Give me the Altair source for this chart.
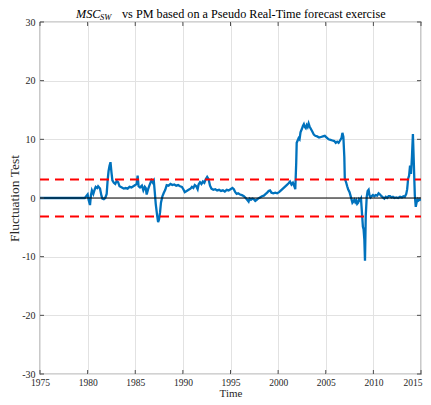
import altair as alt
import pandas as pd

years = [1975.0, 1979.7, 1979.85, 1980.0, 1980.1, 1980.25, 1980.35, 1980.45, 1980.6, 1980.75,
         1980.85, 1981.0, 1981.1, 1981.3, 1981.45, 1981.55, 1981.7, 1981.85, 1982.0, 1982.1,
         1982.2, 1982.3, 1982.4, 1982.5, 1982.6, 1982.75, 1982.9, 1983.05, 1983.2, 1983.35,
         1983.6, 1983.8, 1984.0, 1984.2, 1984.4, 1984.6, 1984.8, 1985.0, 1985.15, 1985.25,
         1985.35, 1985.5, 1985.7, 1985.85, 1986.0, 1986.1, 1986.2, 1986.35, 1986.5, 1986.7,
         1986.85, 1986.95, 1987.05, 1987.15, 1987.3, 1987.4, 1987.5, 1987.6, 1987.7, 1987.85,
         1988.0, 1988.15, 1988.3, 1988.5, 1988.7, 1988.9, 1989.1, 1989.3, 1989.5, 1989.7,
         1989.9, 1990.05, 1990.2, 1990.4, 1990.6, 1990.8, 1990.95, 1991.1, 1991.25, 1991.4,
         1991.55, 1991.65, 1991.8, 1991.95, 1992.1, 1992.25, 1992.4, 1992.55, 1992.7, 1992.85,
         1993.0, 1993.2, 1993.4, 1993.6, 1993.8, 1994.0, 1994.2, 1994.4, 1994.6, 1994.8,
         1995.0, 1995.2, 1995.35, 1995.5, 1995.65, 1995.8, 1996.0, 1996.2, 1996.4, 1996.6,
         1996.75, 1996.9, 1997.0, 1997.15, 1997.3, 1997.45, 1997.6, 1997.75, 1997.9, 1998.1,
         1998.3, 1998.5, 1998.7, 1998.85, 1999.0, 1999.15, 1999.3, 1999.5, 1999.7, 1999.9,
         2000.1, 2000.3, 2000.5, 2000.7, 2000.9, 2001.1, 2001.25, 2001.4, 2001.55, 2001.7,
         2001.8, 2001.9, 2001.95, 2002.05, 2002.15, 2002.25, 2002.35, 2002.5, 2002.6, 2002.7,
         2002.8, 2002.9, 2003.0, 2003.1, 2003.2, 2003.3, 2003.4, 2003.5, 2003.6, 2003.75,
         2003.9, 2004.1, 2004.3, 2004.5, 2004.7, 2004.9, 2005.1, 2005.3, 2005.5, 2005.7,
         2005.9, 2006.05, 2006.2, 2006.35, 2006.5, 2006.65, 2006.75, 2006.85, 2006.95, 2007.0,
         2007.15, 2007.25, 2007.35, 2007.5, 2007.6, 2007.7, 2007.8, 2007.9, 2008.0, 2008.1,
         2008.2, 2008.3, 2008.4, 2008.5, 2008.6, 2008.7, 2008.8, 2008.9, 2008.97, 2009.05,
         2009.12, 2009.2, 2009.3, 2009.4, 2009.5, 2009.6, 2009.7, 2009.8, 2009.95, 2010.1,
         2010.25, 2010.4, 2010.55, 2010.7, 2010.85, 2011.0, 2011.15, 2011.3, 2011.45, 2011.6,
         2011.75, 2011.9, 2012.05, 2012.2, 2012.4, 2012.6, 2012.8, 2013.0, 2013.15, 2013.3,
         2013.45, 2013.55, 2013.65, 2013.75, 2013.85, 2013.95, 2014.05, 2014.15, 2014.25, 2014.35,
         2014.45, 2014.55, 2014.65, 2014.75, 2014.85, 2015.0]
values = [0.0, 0.0, 0.3, 0.6, -0.3, -1.2, 0.5, 1.3, 0.7, 1.5,
          1.9, 1.7, 2.0, 1.6, 0.4, -0.1, -0.2, 0.0, 0.7, 3.0,
          4.6, 5.5, 6.1, 4.4, 3.0, 2.6, 2.4, 2.9, 2.7, 2.0,
          1.8, 1.6, 1.7, 1.6, 1.9, 1.8, 2.0, 2.2, 2.4, 3.8,
          2.0, 1.8, 2.1, 1.3, 1.9, 1.7, 0.6, 1.5, 2.2, 3.0,
          2.6, 2.9, 1.0, -1.0, -3.0, -4.1, -3.6, -2.5, -0.8, 0.3,
          0.9, 1.4, 2.2, 2.1, 2.4, 2.2, 2.3, 2.1, 2.2, 2.0,
          1.9, 1.5, 1.0, 1.2, 1.4, 1.6, 1.9, 1.7, 2.2, 2.0,
          1.5, 2.3, 2.7, 2.4, 2.8, 2.6, 3.2, 3.6, 3.2, 2.1,
          1.6, 1.4, 1.5, 1.3, 1.4, 1.2, 1.3, 1.1, 1.4, 1.3,
          1.5, 1.7, 1.5, 1.0, 0.7, 0.8, 0.6, 0.5, 0.3, 0.0,
          -0.3, -0.6, -0.1, -0.3, -0.1, -0.2, -0.5, -0.3, -0.1, 0.1,
          0.3, 0.4, 0.7, 0.9, 1.2, 1.3, 0.9, 0.8, 0.9, 0.8,
          1.0, 1.3, 1.6, 1.9, 2.2, 2.5, 2.8, 2.3, 2.6, 2.0,
          1.5, 6.0, 9.4, 9.8, 10.2, 10.0, 11.2, 11.8, 12.3, 12.6,
          12.1, 11.9, 12.4, 12.1, 12.7, 12.2, 11.9, 11.6, 11.3, 10.8,
          10.6, 10.5, 10.3, 10.4, 10.5, 10.6, 10.3, 10.0, 9.9, 9.8,
          9.7, 9.4, 9.6, 9.4, 9.8, 10.2, 11.1, 10.4, 7.0, 3.3,
          2.6, 2.0, 1.5, 1.0, 0.4, -0.2, -0.8, -0.6, -0.3, -0.7,
          -0.4, -1.0, -0.8, -0.2, -0.4, -0.1, -2.5, -4.9, -5.3, -7.0,
          -10.7, -3.0, 0.2, 1.2, 1.4, 0.4, 0.1, 0.3, 0.5, 0.3,
          0.5, 0.4, 0.8, 0.6, 0.3, 0.1, -0.1, 0.2, 0.0, 0.3,
          0.3, 0.1, 0.2, 0.0, 0.1, 0.0, 0.2, 0.1, 0.3, 0.2,
          0.7, 1.5, 3.3, 3.8, 5.5, 4.1, 7.0, 10.9, 5.8, 0.5,
          -1.5, -0.7, -0.2, -0.4, -0.2, -0.4]

x_ticks = [1975, 1980, 1985, 1990, 1995, 2000, 2005, 2010, 2015]
y_ticks = [-30, -20, -10, 0, 10, 20, 30]
crit_value = 3.15
x_range = [1975, 2015]
y_range = [-30, 30]

FONT = "Liberation Serif"
FRAME = "#4d4d4d"
W, H = 381, 352

df = pd.DataFrame({"year": years, "value": values})
crit_df = pd.DataFrame({"year": [x_range[0]] * 2, "year2": [x_range[1]] * 2,
                        "value": [crit_value, -crit_value]})
zero_df = pd.DataFrame({"year": [x_range[0]], "year2": [x_range[1]], "value": [0]})

xs = alt.Scale(domain=x_range, nice=False, zero=False)
ys = alt.Scale(domain=y_range, nice=False, zero=False)

axis_common = dict(grid=True, gridColor="#e2e2e2", gridWidth=1, ticks=False, domain=False,
                   labelColor="#262626", labelFont=FONT,
                   titleFont=FONT, titleColor="#262626",
                   titleFontWeight="normal", labelFlush=False)

x_axis = alt.Axis(values=x_ticks, title="Time", format="d", labelPadding=3,
                  labelFontSize=9.5,
                  labelAlign={"condition": {"test": "datum.value == 2015", "value": "right"},
                              "value": "center"},
                  labelOffset={"condition": {"test": "datum.value == 2015", "value": 1},
                               "value": 0},
                  titleFontSize=11, titleBaseline="alphabetic", titleX=W / 2, titleY=22,
                  **axis_common)
y_axis = alt.Axis(values=y_ticks, title="Fluctuation Test", labelPadding=5,
                  labelFontSize=10,
                  labelExpr="'' + datum.value", titleFontSize=13.5,
                  titleBaseline="middle", titleX=-25.5, titleY=H / 2, titleAngle=-90,
                  **axis_common)


def X(field):
    return alt.X(field, type="quantitative", scale=xs, axis=x_axis)


def Y(field):
    return alt.Y(field, type="quantitative", scale=ys, axis=y_axis)


line = alt.Chart(df).mark_line(color="#0072BD", strokeWidth=2.3, clip=True).encode(
    x=X("year"), y=Y("value"))

crit = alt.Chart(crit_df).mark_rule(color="#FF0000", strokeWidth=2, strokeDash=[9, 6]).encode(
    x=X("year"), x2="year2", y=Y("value"))

zero = alt.Chart(zero_df).mark_rule(color="#000000", strokeWidth=1).encode(
    x=X("year"), x2="year2", y=Y("value"))

# inward ticks on all four sides (MATLAB box style)
tick_len_y = 0.68
tick_len_x = 0.42
n = len(x_ticks)
m = len(y_ticks)
vt = pd.DataFrame({"year": x_ticks * 2,
                   "value": [y_range[0]] * n + [y_range[1]] * n,
                   "value2": [y_range[0] + tick_len_y] * n + [y_range[1] - tick_len_y] * n})
ht = pd.DataFrame({"value": y_ticks * 2,
                   "year": [x_range[0]] * m + [x_range[1]] * m,
                   "year2": [x_range[0] + tick_len_x] * m + [x_range[1] - tick_len_x] * m})

vticks = alt.Chart(vt).mark_rule(color=FRAME, strokeWidth=1).encode(
    x=X("year"), y=Y("value"), y2="value2")
hticks = alt.Chart(ht).mark_rule(color=FRAME, strokeWidth=1).encode(
    x=X("year"), x2="year2", y=Y("value"))

title_df = pd.DataFrame({"t": [""]})
TY = -8.5
t_main = alt.Chart(title_df).mark_text(
    text="vs PM based on a Pseudo Real-Time forecast exercise", font=FONT, fontSize=12.2,
    align="left", baseline="middle", color="#000000"
).encode(x=alt.value(82), y=alt.value(TY))
t_msc = alt.Chart(title_df).mark_text(
    text="MSC", font=FONT, fontSize=12.2, fontStyle="italic",
    align="left", baseline="middle", color="#000000"
).encode(x=alt.value(36), y=alt.value(TY))
t_sw = alt.Chart(title_df).mark_text(
    text="SW", font=FONT, fontSize=8.5, fontStyle="italic",
    align="left", baseline="middle", color="#000000"
).encode(x=alt.value(60), y=alt.value(TY + 3))

chart = alt.layer(
    line, crit, zero, vticks, hticks,
    t_msc, t_sw, t_main,
).properties(
    width=W, height=H,
    autosize=alt.AutoSizeParams(type="none"),
    padding={"left": 32, "top": 14, "right": 2, "bottom": 23},
    background="#ffffff",
).configure_view(stroke=FRAME, strokeWidth=1.2)

chart.save("out.html", embed_options={"renderer": "svg", "actions": False})
